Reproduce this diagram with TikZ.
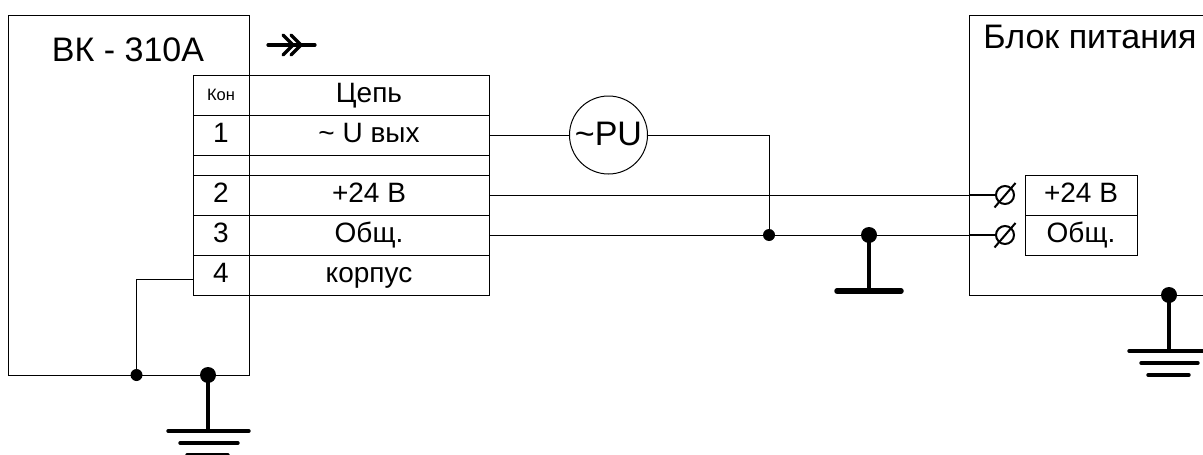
\documentclass[tikz,border=0pt]{standalone}
\usepackage{fontspec}
\setmainfont{Liberation Sans}
\newcommand{\lblfont}{\fontsize{28}{30}\selectfont}
\newcommand{\bigfont}{\fontsize{34}{36}\selectfont}
\tikzset{
  wire/.style={draw=black,line width=1},
  cell/.style={draw=black,line width=1,rectangle,inner sep=0,outer sep=0,font=\lblfont,text height=20,text depth=5},
  narrow/.style={cell,minimum width=56,minimum height=40},
  wide/.style={cell,minimum width=240,minimum height=40},
  spacer/.style={text height=0,text depth=0,minimum height=20},
  pin/.style={cell,minimum width=112,minimum height=40},
  title/.style={inner sep=0,outer sep=0,anchor=base,font=\bigfont},
  dotsmall/.style={circle,fill=black,inner sep=0,minimum size=12},
  dotbig/.style={circle,fill=black,inner sep=0,minimum size=16},
  stem/.style={line width=3.2},
  barlow/.style={line width=3.4,line cap=round},
  terminal/.style={circle,draw=black,line width=2,inner sep=0,minimum size=18,outer sep=0},
  stub/.style={line width=2},
}
\begin{document}
\begin{tikzpicture}[x=1pt,y=-1pt]
\useasboundingbox (0,0) rectangle (1203,455);
\clip (0,0) rectangle (1203,455);
% device boxes
\node[wire,rectangle,inner sep=0,minimum width=240.5,minimum height=360] (vk) at (129,195) {};
\node[wire,rectangle,inner sep=0,minimum width=270,minimum height=280] (psu) at (1104.5,155) {};
\node[title] (vkt) at (128,61.5) {ВК - 310А};
\node[title] (psut) at (1090,48) {Блок питания};
% connector symbol
\coordinate (a1) at (268,45);
\coordinate (a2) at (315,45);
\draw[line width=3.2,line cap=round] (a1) -- (a2);
\draw[line width=3.2,line cap=round,line join=miter] (283,35) -- (293,45) -- (283,55);
\draw[line width=3.2,line cap=round,line join=miter] (291,35) -- (301,45) -- (291,55);
% table
\node[narrow,font=\fontsize{16.5}{18}\selectfont,text height=12,text depth=1] (k0) at (221,95) {Кон};
\node[wide] (c0) at (369,95) {Цепь};
\node[narrow] (k1) at (221,135) {1};
\node[wide] (c1) at (369,135) {\textasciitilde{} U вых};
\node[narrow,spacer] (kx) at (221,165) {};
\node[wide,spacer] (cx) at (369,165) {};
\node[narrow] (k2) at (221,195) {2};
\node[wide] (c2) at (369,195) {+24 В};
\node[narrow] (k3) at (221,235) {3};
\node[wide] (c3) at (369,235) {Общ.};
\node[narrow] (k4) at (221,275) {4};
\node[wide] (c4) at (369,275) {корпус};
% meter
\node[circle,draw=black,line width=1,inner sep=0,minimum size=78,outer sep=0,font=\bigfont,text height=20,text depth=0] (pu) at (608.5,135) {\textasciitilde PU};
% power terminals
\node[pin] (p1) at (1081,195) {+24 В};
\node[pin] (p2) at (1081,235) {Общ.};
\node[terminal] (t1) at (1005,195) {};
\node[terminal] (t2) at (1005,235) {};
\draw[line width=2] (994.5,207.5) -- (1015.5,183);
\draw[line width=2] (994.5,247.5) -- (1015.5,223);
% junctions
\node[dotsmall] (j1) at (769,235) {};
\node[dotbig] (j2) at (869,235) {};
\node[dotsmall] (j3) at (136.5,375) {};
\node[dotbig] (j4) at (208,375) {};
\node[dotbig] (j5) at (1169,295) {};
% wires
\draw[wire] (c1.east) -- (pu.west);
\draw[wire] (pu.east) -| (j1.center);
\draw[wire] (c2.east) -- (t1.west);
\draw[wire] (c3.east) -- (t2.west);
\draw[stub] (psu.west |- t1.west) -- (t1.west);
\draw[stub] (psu.west |- t2.west) -- (t2.west);
\draw[wire] (k4.west |- 0,279.5) -| (j3.center);
% earth, body of VK
\coordinate (g1) at (208,431);
\draw[stem] (j4.center) -- (g1);
\draw[barlow] (168,431) -- (249,431);
\draw[barlow] (180,443) -- (238,443);
\draw[barlow] (187,455) -- (228,455);
% common earth
\coordinate (g2) at (869,291);
\draw[stem] (j2.center) -- (g2);
\draw[line width=5.5,line cap=round] (837,291) -- (901,291);
% earth, power block
\coordinate (g3) at (1169,351);
\draw[stem] (j5.center) -- (g3);
\draw[barlow] (1129,351) -- (1210,351);
\draw[barlow] (1141,363) -- (1198,363);
\draw[barlow] (1148,375) -- (1189,375);
\end{tikzpicture}
\end{document}
